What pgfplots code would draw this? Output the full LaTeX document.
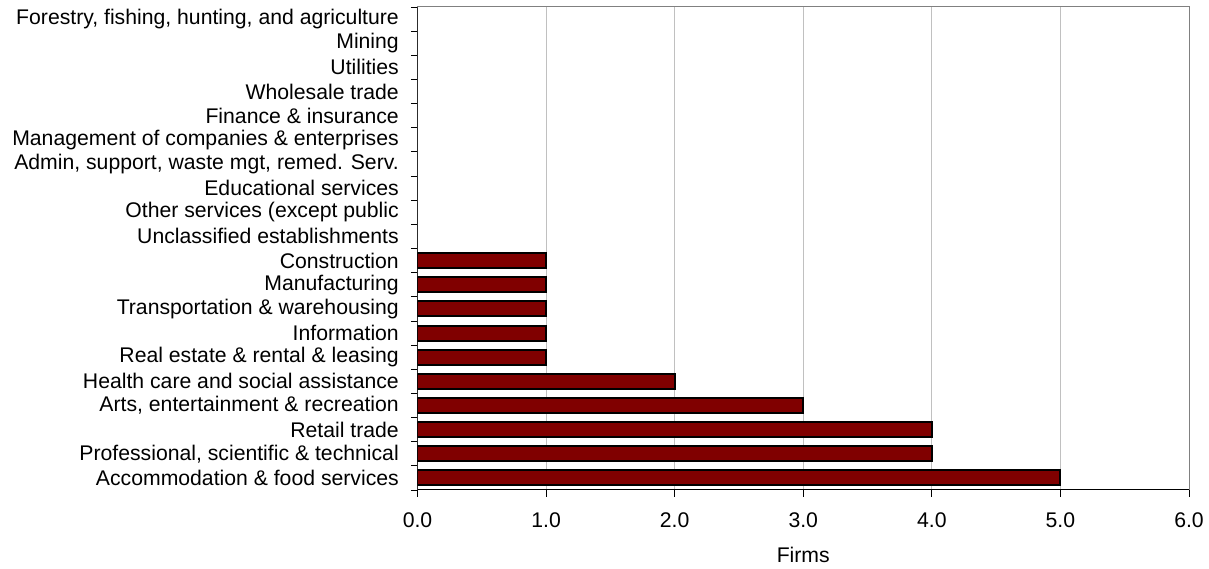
\documentclass[border=0pt]{standalone}
\usepackage{fontspec}
\setmainfont{Liberation Sans}
\usepackage{pgfplots}
\pgfplotsset{compat=1.18}
\definecolor{barred}{RGB}{128,0,0}
\definecolor{gridgray}{RGB}{192,192,192}
\definecolor{framegray}{RGB}{128,128,128}
\begin{document}
\begin{tikzpicture}
\begin{axis}[
  xbar,
  scale only axis,
  width=771.5pt, height=483pt,
  xmin=0, xmax=6,
  ymin=-0.5, ymax=19.5,
  xtick={0,1,2,3,4,5,6},
  ytick={0,...,19},
  yticklabels={
    Accommodation \& food services,
    {Professional, scientific \& technical},
    Retail trade,
    {Arts, entertainment \& recreation},
    Health care and social assistance,
    Real estate \& rental \& leasing,
    Information,
    Transportation \& warehousing,
    Manufacturing,
    Construction,
    Unclassified establishments,
    Other services (except public,
    Educational services,
    {Admin, support, waste mgt, remed. Serv.},
    Management of companies \& enterprises,
    Finance \& insurance,
    Wholesale trade,
    Utilities,
    Mining,
    {Forestry, fishing, hunting, and agriculture}
  },
  minor ytick={-0.5,0.5,...,19.5},
  xtick pos=bottom, ytick pos=left,
  tick align=outside,
  tick style={black, line width=0.8pt},
  major tick length=6.7pt,
  minor tick length=6.5pt,
  every major y tick/.style={draw=none},
  axis line style={framegray, line width=1pt},
  xmajorgrids=true,
  grid style={gridgray, line width=0.8pt},
  xticklabel={\pgfmathprintnumber[fixed, fixed zerofill, precision=1]{\tick}},
  /pgf/number format/assume math mode=true,
  every tick label/.append style={font=\fontsize{21.2}{24}\selectfont, text=black},
  yticklabel style={anchor=east, inner sep=0pt, xshift=-11.8pt},
  xticklabel style={anchor=north, inner sep=0pt, yshift=-16pt},
  xlabel={Firms},
  xlabel style={font=\fontsize{21.2}{24}\selectfont, anchor=north, inner sep=0pt, at={(rel axis cs:0.5,0)}, yshift=-57pt},
  bar width=15pt,
  restrict x to domain=0.5:10,
]
\addplot[fill=barred, draw=black, line width=2pt] coordinates {
  (5,0) (4,1) (4,2) (3,3) (2,4) (1,5) (1,6) (1,7) (1,8) (1,9)
  (0,10) (0,11) (0,12) (0,13) (0,14) (0,15) (0,16) (0,17) (0,18) (0,19)
};
\draw[black, line width=1pt] (rel axis cs:0,1) -- (rel axis cs:0,0) -- (rel axis cs:1,0);
\end{axis}
\path (current axis.south west) ++(-417.5pt,-79pt) rectangle ++(1209pt,569pt);
\end{tikzpicture}
\end{document}
